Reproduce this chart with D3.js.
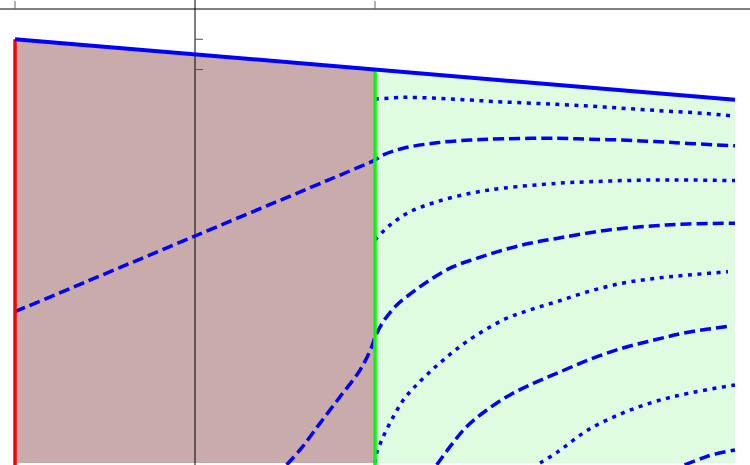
<!DOCTYPE html>
<html>
<head>
<meta charset="UTF-8">
<title>Regions and level curves</title>
<script src="https://cdn.jsdelivr.net/npm/d3@7"></script>
<style>
* { margin: 0; padding: 0; }
body { background: #fff; }
#chart { display: block; }
</style>
</head>
<body>
<svg id="chart"></svg>
<script>
// axis ticks (no labels in the original)
const xTicks = [-1, 1];
const yTicks = [-1, -2];

// region boundaries
const leftEdge = -1, midEdge = 1, rightEdge = 3, bottomEdge = -15;
const topLine = [[-1, -1], [3, -3]];

// level curves
const curveA = [[-1, -10], [0, -7.5], [0.9, -5.25], [1, -4.99], [1.046, -4.82], [1.157, -4.60], [1.343, -4.42],
  [1.528, -4.33], [1.713, -4.29], [2.009, -4.27], [2.183, -4.30], [2.372, -4.33], [2.556, -4.38], [2.739, -4.44], [3, -4.52]];
const curveB = [[0.509, -15.06], [0.583, -14.57], [0.694, -13.69], [0.806, -12.81], [0.917, -11.93], [0.982, -11.16],
  [1, -10.85], [1.046, -10.33], [1.121, -9.78], [1.213, -9.34], [1.306, -8.95], [1.435, -8.51], [1.565, -8.24],
  [1.713, -7.96], [1.861, -7.74], [2.009, -7.58], [2.183, -7.40], [2.372, -7.25], [2.556, -7.16], [2.739, -7.10], [3, -7.08]];
const curveC = [[1.343, -15.06], [1.417, -14.46], [1.509, -13.80], [1.621, -13.25], [1.75, -12.75], [1.879, -12.37],
  [2.009, -12.04], [2.183, -11.6], [2.372, -11.21], [2.556, -10.93], [2.739, -10.68], [2.983, -10.47]];
const curveE = [[2.72, -15.06], [2.817, -14.84], [2.872, -14.73], [3, -14.57]];

const dot1 = [[1, -2.98], [1.156, -2.92], [1.344, -2.95], [1.528, -3.01], [1.711, -3.07], [2.011, -3.15],
  [2.278, -3.24], [2.556, -3.35], [2.833, -3.45], [3, -3.54]];
const dot2 = [[1, -7.63], [1.083, -7.14], [1.194, -6.70], [1.343, -6.37], [1.528, -6.09], [1.713, -5.92],
  [2.009, -5.76], [2.183, -5.71], [2.372, -5.67], [2.556, -5.65], [2.739, -5.65], [3, -5.67]];
const dot3 = [[1, -15.0], [1.009, -14.68], [1.046, -14.13], [1.102, -13.47], [1.157, -12.92], [1.213, -12.53],
  [1.287, -12.09], [1.379, -11.6], [1.509, -10.99], [1.713, -10.27], [1.861, -9.94], [2.009, -9.67],
  [2.183, -9.34], [2.372, -9.06], [2.556, -8.90], [2.739, -8.79], [2.961, -8.68]];
const dot4 = [[1.917, -15.0], [2.011, -14.65], [2.183, -13.91], [2.372, -13.36], [2.556, -12.97], [2.739, -12.70], [3, -12.42]];

const dashedCurves = [curveA, curveB, curveC, curveE];
const dottedCurves = [dot1, dot2, dot3, dot4];

const width = 750, height = 465;
const svg = d3.select("#chart").attr("width", width).attr("height", height);

const x = d3.scaleLinear().domain([leftEdge, rightEdge]).range([15, 735]);
const y = d3.scaleLinear().domain([0, bottomEdge]).range([9, 463]);

const topAt = xv => topLine[0][1] + (xv - topLine[0][0]) * (topLine[1][1] - topLine[0][1]) / (topLine[1][0] - topLine[0][0]);

const poly = pts => "M" + pts.map(p => x(p[0]) + "," + y(p[1])).join("L") + "Z";

// filled regions
svg.append("path")
  .attr("d", poly([[leftEdge, topAt(leftEdge)], [midEdge, topAt(midEdge)], [midEdge, bottomEdge], [leftEdge, bottomEdge]]))
  .attr("fill", "#c9abab");
svg.append("path")
  .attr("d", poly([[midEdge, topAt(midEdge)], [rightEdge, topAt(rightEdge)], [rightEdge, bottomEdge], [midEdge, bottomEdge]]))
  .attr("fill", "#e0fce0");

// axes
const yBottom = y.invert(height);
svg.append("line")
  .attr("x1", 0).attr("x2", width)
  .attr("y1", y(0)).attr("y2", y(0))
  .attr("stroke", "#000").attr("stroke-width", 1);
svg.append("line")
  .attr("x1", x(0)).attr("x2", x(0))
  .attr("y1", 0).attr("y2", height)
  .attr("stroke", "#000").attr("stroke-width", 1);

svg.selectAll(".xtick").data(xTicks).enter().append("line")
  .attr("class", "xtick")
  .attr("x1", d => x(d)).attr("x2", d => x(d))
  .attr("y1", y(0) - 8).attr("y2", y(0))
  .attr("stroke", "#666").attr("stroke-width", 1);
svg.selectAll(".ytick").data(yTicks).enter().append("line")
  .attr("class", "ytick")
  .attr("x1", x(0)).attr("x2", x(0) + 8)
  .attr("y1", d => y(d)).attr("y2", d => y(d))
  .attr("stroke", "#555").attr("stroke-width", 1);

// level curves
const line = d3.line().x(d => x(d[0])).y(d => y(d[1])).curve(d3.curveCatmullRom.alpha(0.5));

svg.selectAll(".dashed").data(dashedCurves).enter().append("path")
  .attr("class", "dashed")
  .attr("d", line)
  .attr("fill", "none")
  .attr("stroke", "#0000ff")
  .attr("stroke-width", 3.5)
  .attr("stroke-dasharray", "11,5");

svg.selectAll(".dotted").data(dottedCurves).enter().append("path")
  .attr("class", "dotted")
  .attr("d", line)
  .attr("fill", "none")
  .attr("stroke", "#0000ff")
  .attr("stroke-width", 3.5)
  .attr("stroke-dasharray", "4,5.5");

// boundary lines
svg.append("line")
  .attr("x1", x(leftEdge)).attr("x2", x(leftEdge))
  .attr("y1", y(topAt(leftEdge))).attr("y2", y(yBottom))
  .attr("stroke", "#ff0000").attr("stroke-width", 3.5);
svg.append("line")
  .attr("x1", x(midEdge)).attr("x2", x(midEdge))
  .attr("y1", y(topAt(midEdge))).attr("y2", y(yBottom))
  .attr("stroke", "#00ff00").attr("stroke-width", 3.5);
svg.append("path")
  .attr("d", d3.line().x(d => x(d[0])).y(d => y(d[1]))(topLine))
  .attr("fill", "none")
  .attr("stroke", "#0000ff")
  .attr("stroke-width", 4);
</script>
</body>
</html>
